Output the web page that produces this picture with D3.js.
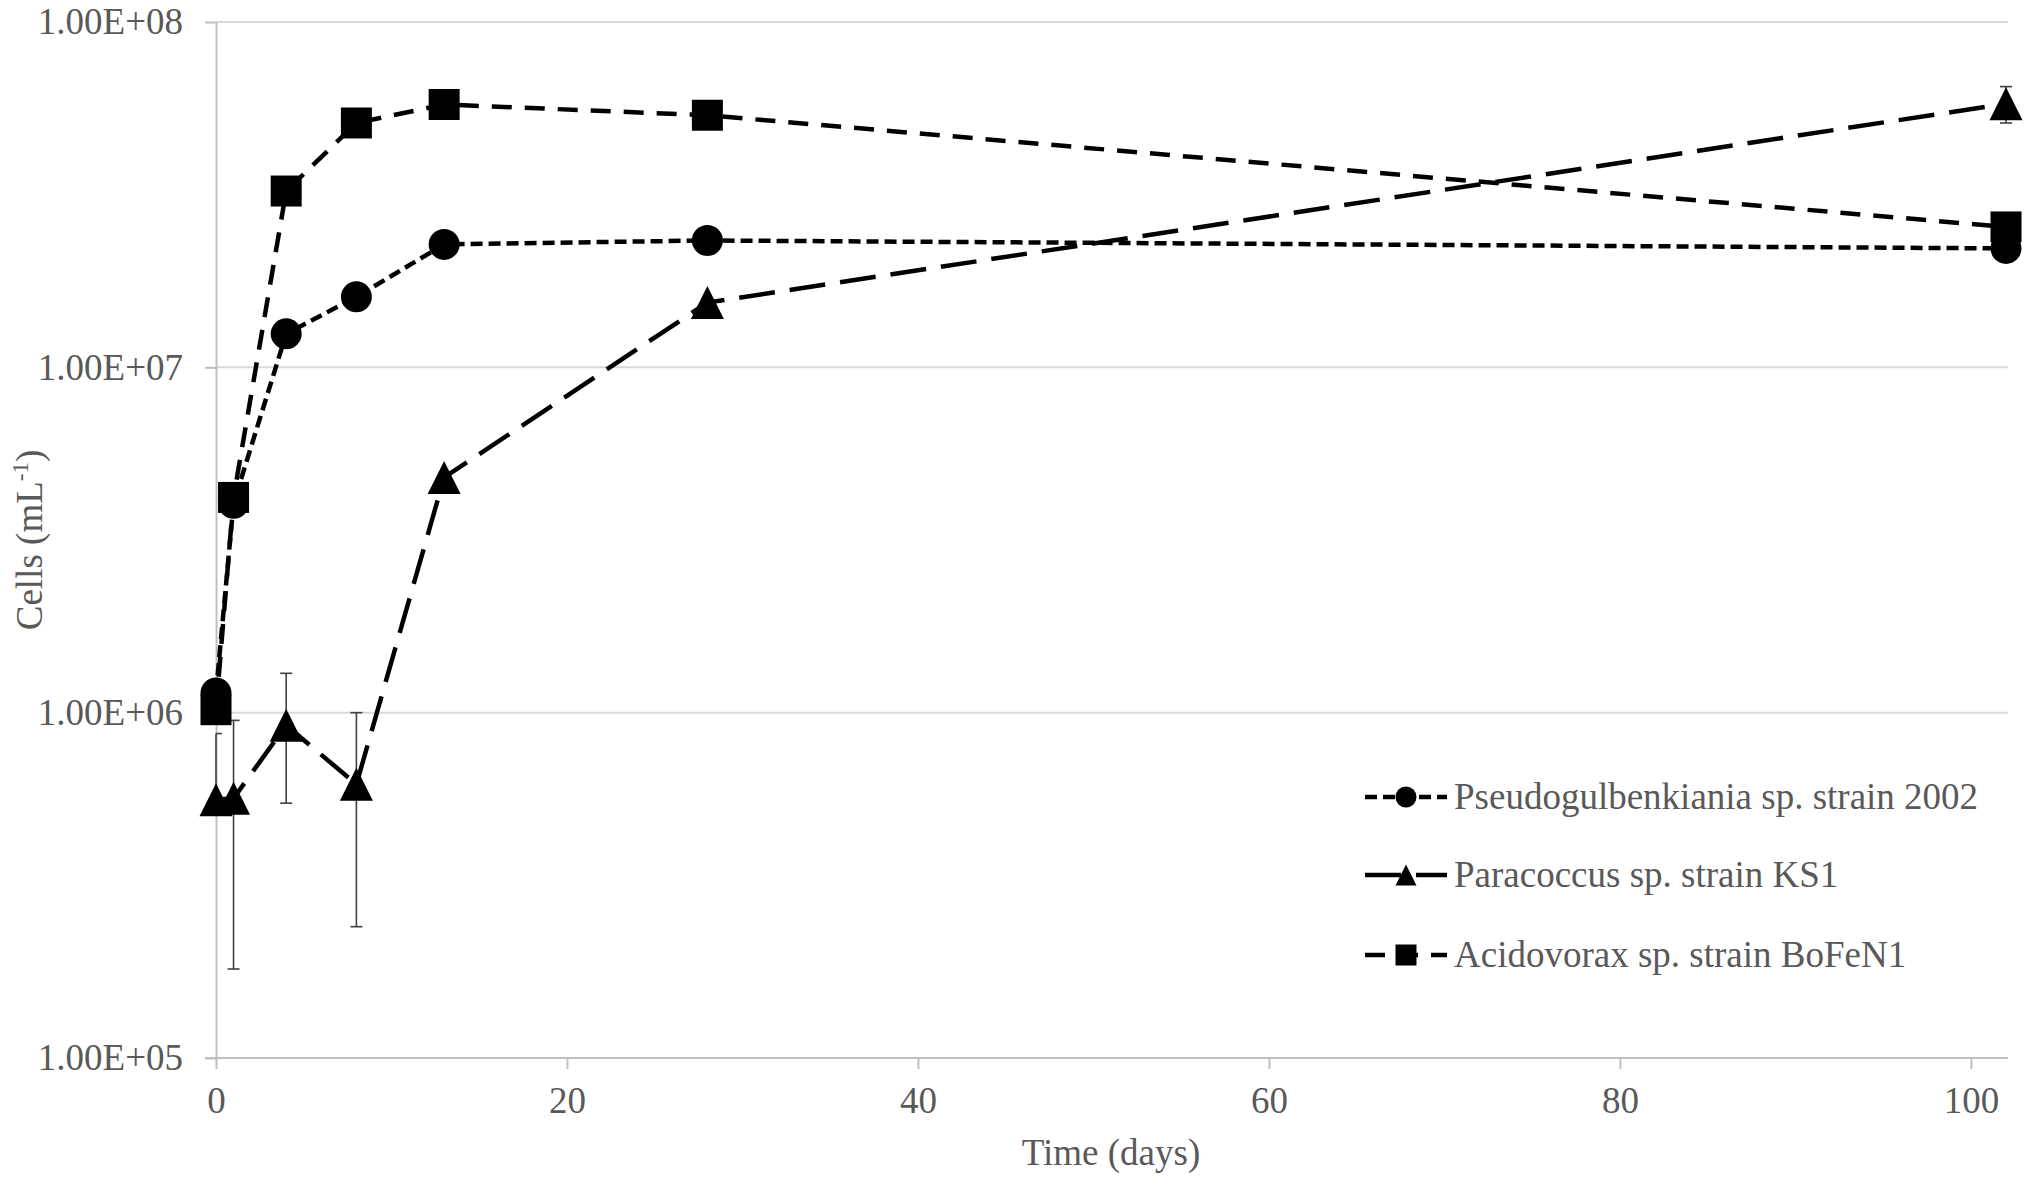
<!DOCTYPE html>
<html>
<head>
<meta charset="utf-8">
<script src="https://cdn.jsdelivr.net/npm/d3@7"></script>
<style>
 body { margin: 0; background: #fff; }
 text { font-family: "Liberation Serif", "Times New Roman", serif; fill: #595959; }
</style>
</head>
<body>
<div id="chart"></div>
<script>
// values
const days = [0, 1, 4, 8, 13, 28, 102];
const pseudoCells = [1.14e6, 4.04e6, 1.25e7, 1.6e7, 2.27e7, 2.33e7, 2.21e7];
const paraCells = [5.6e5, 5.65e5, 9.2e5, 6.2e5, 4.8e6, 1.54e7, 5.8e7];
const paraLow = [5.6e5, 1.81e5, 5.47e5, 2.4e5, 4.8e6, 1.54e7, 5.1e7];
const paraHigh = [8.7e5, 9.5e5, 1.3e6, 1.0e6, 4.8e6, 1.54e7, 6.5e7];
const acidoCells = [1.02e6, 4.2e6, 3.24e7, 5.1e7, 5.77e7, 5.37e7, 2.55e7];
const seriesNames = ["Pseudogulbenkiania sp. strain 2002", "Paracoccus sp. strain KS1", "Acidovorax sp. strain BoFeN1"];
const yTicks = [1e5, 1e6, 1e7, 1e8];
const yTickLabels = ["1.00E+05", "1.00E+06", "1.00E+07", "1.00E+08"];
const xTicks = [0, 20, 40, 60, 80, 100];

const width = 2032;
const height = 1179;
const margin = { top: 22, right: 26, bottom: 121, left: 216 };

const svg = d3
 .select("#chart")
 .append("svg")
 .attr("width", width)
 .attr("height", height);

const x = d3.scaleLinear().domain([0, 102]).range([margin.left, width - margin.right]);
const y = d3.scaleLog().domain([1e5, 1e8]).range([height - margin.bottom, margin.top]);

// gridlines
svg
 .append("g")
 .selectAll("line")
 .data(yTicks.slice(1))
 .enter()
 .append("line")
 .attr("x1", margin.left)
 .attr("x2", width - margin.right + 2)
 .attr("y1", (d) => y(d))
 .attr("y2", (d) => y(d))
 .attr("stroke", "#d9d9d9")
 .attr("stroke-width", 2);

// y axis
const yAxis = svg
 .append("g")
 .attr("transform", `translate(${margin.left},0)`)
 .call(
  d3.axisLeft(y)
   .tickValues(yTicks)
   .tickFormat((d, i) => yTickLabels[i])
   .tickSize(11)
   .tickSizeOuter(0)
   .tickPadding(22)
 );
yAxis.select(".domain").attr("stroke", "#bfbfbf").attr("stroke-width", 2);
yAxis.selectAll(".tick line").attr("stroke", "#bfbfbf").attr("stroke-width", 2);
yAxis.selectAll(".tick text").attr("font-size", 37).attr("fill", "#595959")
 .style("font-family", '"Liberation Serif", serif');

// x axis
const xAxis = svg
 .append("g")
 .attr("transform", `translate(0,${y(1e5)})`)
 .call(d3.axisBottom(x).tickValues(xTicks).tickSize(11).tickSizeOuter(0).tickPadding(18));
xAxis.select(".domain").attr("stroke", "#bfbfbf").attr("stroke-width", 2)
 .attr("d", `M${margin.left - 11},0H${width - margin.right + 2}`);
xAxis.selectAll(".tick line").attr("stroke", "#bfbfbf").attr("stroke-width", 2);
xAxis.selectAll(".tick text").attr("font-size", 37).attr("fill", "#595959")
 .style("font-family", '"Liberation Serif", serif');

// axis titles
svg
 .append("text")
 .attr("x", (margin.left + width - margin.right) / 2)
 .attr("y", 1165)
 .attr("text-anchor", "middle")
 .attr("font-size", 37)
 .text("Time (days)");

const yTitle = svg
 .append("text")
 .attr("transform", `translate(42,${(y(1e5) + y(1e8)) / 2}) rotate(-90)`)
 .attr("text-anchor", "middle")
 .attr("font-size", 37);
yTitle.append("tspan").text("Cells (mL");
yTitle.append("tspan").attr("font-size", 23).attr("dy", -14).text("-1");
yTitle.append("tspan").attr("dy", 14).text(")");

// marker shapes, centred on the bounding box like Excel
function markerPath(shape, s) {
 const h = s / 2;
 if (shape === "circle") return d3.symbol(d3.symbolCircle, Math.PI * h * h)();
 if (shape === "square") return `M${-h},${-h}H${h}V${h}H${-h}Z`;
 return `M0,${-h}L${h},${h}L${-h},${h}Z`;
}

const series = [
 { name: seriesNames[0], values: pseudoCells, shape: "circle", size: 31, dash: "12,6" },
 { name: seriesNames[1], values: paraCells, shape: "triangle", size: 33, dash: "36,15", low: paraLow, high: paraHigh },
 { name: seriesNames[2], values: acidoCells, shape: "square", size: 31, dash: "20,13" },
];

const line = d3
 .line()
 .x((d) => x(d[0]))
 .y((d) => y(d[1]));

series.forEach((s) => {
 const pts = days.map((d, i) => [d, s.values[i]]);
 const g = svg.append("g");

 if (s.low) {
  const eb = g.append("g").attr("stroke", "#404040").attr("stroke-width", 1.6);
  days.forEach((d, i) => {
   if (s.low[i] === s.values[i] && s.high[i] === s.values[i]) return;
   const cx = x(d);
   const capL = Math.max(margin.left, cx - 6);
   eb.append("line").attr("x1", cx).attr("x2", cx).attr("y1", y(s.low[i])).attr("y2", y(s.high[i]));
   if (s.high[i] > s.values[i])
    eb.append("line").attr("x1", capL).attr("x2", cx + 6).attr("y1", y(s.high[i])).attr("y2", y(s.high[i]));
   if (s.low[i] < s.values[i])
    eb.append("line").attr("x1", capL).attr("x2", cx + 6).attr("y1", y(s.low[i])).attr("y2", y(s.low[i]));
  });
 }

 g.append("path")
  .datum(pts)
  .attr("d", line)
  .attr("fill", "none")
  .attr("stroke", "#000")
  .attr("stroke-width", 4.5)
  .attr("stroke-dasharray", s.dash);

 g.selectAll(".marker")
  .data(pts)
  .enter()
  .append("path")
  .attr("class", "marker")
  .attr("transform", (d) => `translate(${x(d[0])},${y(d[1])})`)
  .attr("d", markerPath(s.shape, s.size))
  .attr("fill", "#000");
});

// legend
const legend = svg.append("g");
const legendRows = [797, 875, 955];
series.forEach((s, i) => {
 const row = legend.append("g").attr("transform", `translate(1365,${legendRows[i]})`);
 row.append("line")
  .attr("x1", 0)
  .attr("x2", 82)
  .attr("stroke", "#000")
  .attr("stroke-width", 4.5)
  .attr("stroke-dasharray", s.dash);
 row.append("path")
  .attr("transform", "translate(41,0)")
  .attr("d", markerPath(s.shape, 21))
  .attr("fill", "#000");
 row.append("text")
  .attr("x", 89)
  .attr("y", 12)
  .attr("font-size", 37)
  .text(s.name);
});
</script>
</body>
</html>
